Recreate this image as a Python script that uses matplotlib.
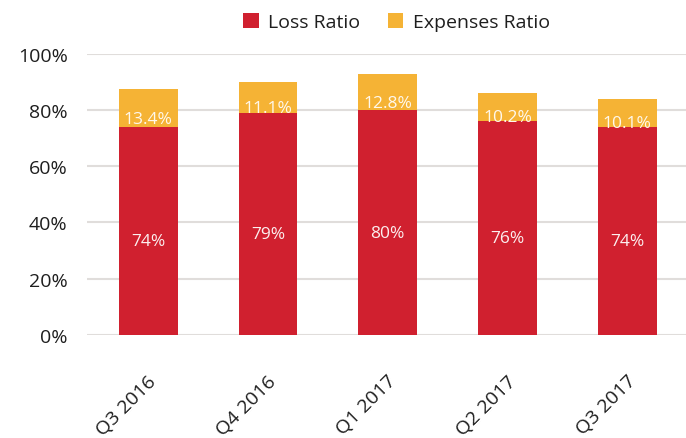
import numpy as np
import matplotlib
matplotlib.use("Agg")
import matplotlib.pyplot as plt
import matplotlib.transforms as mtransforms
from matplotlib.ticker import FuncFormatter

plt.rcParams['font.family'] = ['Open Sans', 'DejaVu Sans']

# data
quarters = ["Q3 2016", "Q4 2016", "Q1 2017", "Q2 2017", "Q3 2017"]
loss_ratio = [74, 79, 80, 76, 74]
expenses_ratio = [13.4, 11.1, 12.8, 10.2, 10.1]
yticks = [0, 20, 40, 60, 80, 100]

red = "#D0202F"
orange = "#F5B335"
text_col = "#1E1E1E"

fig = plt.figure(figsize=(6.86, 4.39), dpi=100)
ax = fig.add_axes([0.127, 0.235, 0.873, 0.640])

x = np.arange(len(quarters))
ax.bar(x, loss_ratio, width=0.49, color=red, label="Loss Ratio", zorder=2)
ax.bar(x, expenses_ratio, width=0.49, bottom=loss_ratio, color=orange,
       label="Expenses Ratio", zorder=2)

# value labels (sit a bit below the middle of each segment)
for i in range(len(quarters)):
    ax.annotate(f"{loss_ratio[i]}%", (x[i], loss_ratio[i] / 2),
                xytext=(0, -7.5), textcoords="offset points",
                ha="center", va="center", color="#FCEFEF", fontsize=12.5, zorder=3)
    ax.annotate(f"{expenses_ratio[i]:.1f}%",
                (x[i], loss_ratio[i] + expenses_ratio[i] / 2),
                xytext=(0, -7.5), textcoords="offset points",
                ha="center", va="center", color="#FFF8EC", fontsize=12.5, zorder=3)

ax.set_xlim(-0.51, 4.49)
ax.set_ylim(0, 100)
ax.set_yticks(yticks)
ax.yaxis.set_major_formatter(FuncFormatter(lambda v, p: f"{v:.0f}%"))
ax.set_xticks(x)
ax.set_xticklabels(quarters, rotation=45, ha="right", va="center",
                   rotation_mode="anchor")
ax.tick_params(axis="both", length=0, labelsize=14, colors=text_col)
ax.tick_params(axis="y", pad=14)
ax.tick_params(axis="x", pad=31)
# nudge the slanted labels a little to the right
shift = mtransforms.ScaledTranslation(4 / 72, 0, fig.dpi_scale_trans)
for lab in ax.get_xticklabels():
    lab.set_transform(lab.get_transform() + shift)
ax.yaxis.grid(True, color="#E0DDDB", linewidth=1.5, zorder=0)
ax.set_axisbelow(True)
for s in ax.spines.values():
    s.set_visible(False)

fig.legend(loc="upper center", bbox_to_anchor=(0.578, 1.008), ncol=2,
           frameon=False, fontsize=14, handlelength=0.8, handleheight=0.8,
           handletextpad=0.5, columnspacing=1.4, labelcolor=text_col)

fig.savefig("out.png", dpi=100)
